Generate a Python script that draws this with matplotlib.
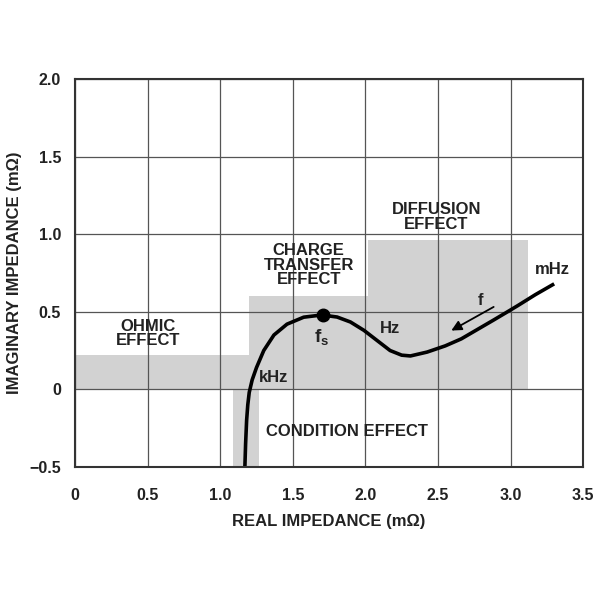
import matplotlib
matplotlib.use("Agg")
import matplotlib.pyplot as plt
from matplotlib.patches import Rectangle

plt.rcParams['font.family'] = ['Liberation Sans', 'DejaVu Sans']

# -------------------- DATOS --------------------
# curva de Nyquist (Re, Im) en mOhm
curve_re = [1.17, 1.175, 1.182, 1.19, 1.20, 1.22, 1.25, 1.30, 1.37, 1.46,
            1.575, 1.68, 1.71, 1.805, 1.897, 1.99, 2.08, 2.17, 2.25, 2.31,
            2.425, 2.55, 2.66, 2.77, 2.88, 2.97, 3.05, 3.17, 3.30]
curve_im = [-0.5, -0.35, -0.2, -0.1, -0.02, 0.06, 0.14, 0.25, 0.35, 0.42,
            0.465, 0.477, 0.478, 0.466, 0.434, 0.38, 0.315, 0.25, 0.22, 0.215,
            0.24, 0.28, 0.325, 0.385, 0.445, 0.495, 0.54, 0.61, 0.68]

fs_point = (1.71, 0.478)

# zonas sombreadas: (x0, x1, y0, y1)
regions = {
    "ohmic": (0.0, 1.2, 0.0, 0.22),
    "charge": (1.2, 2.02, 0.0, 0.6),
    "diffusion": (2.02, 3.12, 0.0, 0.96),
    "condition": (1.09, 1.27, -0.5, 0.0),
}

xticks = [0, 0.5, 1.0, 1.5, 2.0, 2.5, 3.0, 3.5]
xlabels = ['0', '0.5', '1.0', '1.5', '2.0', '2.5', '3.0', '3.5']
yticks = [-0.5, 0, 0.5, 1.0, 1.5, 2.0]
ylabels = ['\u22120.5', '0', '0.5', '1.0', '1.5', '2.0']

# -------------------- FIGURA --------------------
fig = plt.figure(figsize=(6, 6), dpi=100)
ax = fig.add_axes([0.125, 0.222, 0.847, 0.646])
ax.set_xlim(0, 3.5)
ax.set_ylim(-0.5, 2.0)

for name, (x0, x1, y0, y1) in regions.items():
    ax.add_patch(Rectangle((x0, y0), x1 - x0, y1 - y0, facecolor='#d2d2d2',
                           edgecolor='none', zorder=1))

ax.set_xticks(xticks)
ax.set_xticklabels(xlabels)
ax.set_yticks(yticks)
ax.set_yticklabels(ylabels)
ax.grid(True, color='#555555', lw=0.9, zorder=2)
ax.set_axisbelow(False)
ax.tick_params(length=0, labelsize=11.5)
ax.tick_params(axis='x', pad=15)
ax.tick_params(axis='y', pad=10)
for lab in ax.get_xticklabels() + ax.get_yticklabels():
    lab.set_fontweight('bold')
    lab.set_color('#222222')
for sp in ax.spines.values():
    sp.set_linewidth(1.5)
    sp.set_color('#333333')
    sp.set_zorder(5)

ax.plot(curve_re, curve_im, color='black', lw=2.6, zorder=4,
        solid_capstyle='butt', solid_joinstyle='round')
ax.plot([fs_point[0]], [fs_point[1]], 'o', color='black', ms=9, zorder=5)

# flecha de frecuencia
ax.annotate('', xy=(2.575, 0.37), xytext=(2.90, 0.54),
            arrowprops=dict(arrowstyle='-|>', color='black', lw=1.3,
                            mutation_scale=15), zorder=5)

# -------------------- TEXTOS --------------------
kw = dict(fontsize=12, fontweight='bold', color='#222222', ha='center',
          va='center', zorder=6, linespacing=0.95)
ax.text(0.5, 0.36, "OHMIC\nEFFECT", **kw)
ax.text(1.61, 0.80, "CHARGE\nTRANSFER\nEFFECT", **kw)
ax.text(2.49, 1.11, "DIFFUSION\nEFFECT", **kw)
ax.text(1.87, -0.27, "CONDITION EFFECT", **kw)
ax.text(3.29, 0.77, "mHz", **kw)
ax.text(2.17, 0.39, "Hz", **kw)
ax.text(1.37, 0.075, "kHz", **kw)
ax.text(2.79, 0.57, "f", **kw)
ax.text(1.70, 0.33, "f$_\\mathregular{s}$", fontsize=13.5, fontweight='bold',
        color='#222222', ha='center', va='center', zorder=6)

ax.set_xlabel("REAL IMPEDANCE (m\u03a9)", fontsize=12, fontweight='bold',
              color='#222222', labelpad=8)
ax.set_ylabel("IMAGINARY IMPEDANCE (m\u03a9)", fontsize=12, fontweight='bold',
              color='#222222')
ax.yaxis.set_label_coords(-0.104, 0.5)

fig.savefig("out.png", dpi=100, facecolor='white')
